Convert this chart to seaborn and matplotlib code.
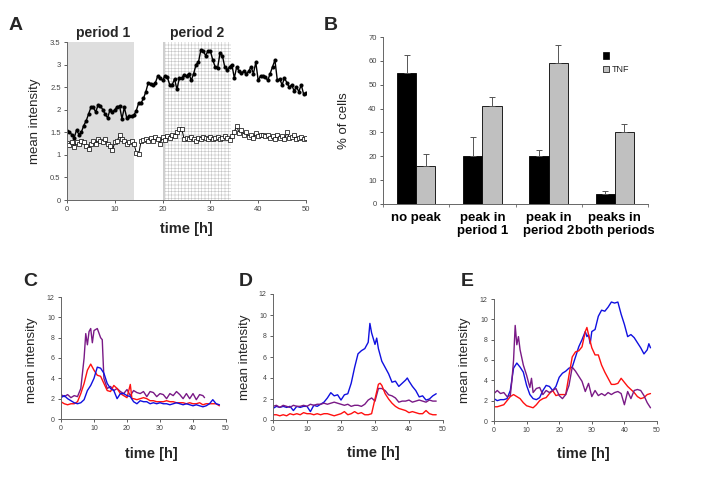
import numpy as np
import pandas as pd
import matplotlib
matplotlib.use("Agg")
import matplotlib.pyplot as plt
import seaborn as sns
from matplotlib.ticker import FuncFormatter
from matplotlib.patches import Patch

# ---- panel A: mean intensity of single cell, sampled every 0.5 h ----
a_time = np.arange(0, 50.5, 0.5)
a_tnf = [1.52, 1.50, 1.45, 1.38, 1.55, 1.45, 1.50, 1.65, 1.75, 1.90,
         2.05, 2.05, 1.95, 2.10, 2.08, 2.00, 1.90, 1.82, 2.00, 1.95,
         2.00, 2.07, 2.08, 1.80, 2.05, 1.82, 1.85, 1.85, 1.88, 1.98,
         2.15, 2.15, 2.25, 2.40, 2.60, 2.58, 2.55, 2.60, 2.75, 2.70,
         2.65, 2.75, 2.72, 2.55, 2.55, 2.68, 2.45, 2.70, 2.70, 2.78,
         2.75, 2.80, 2.65, 2.80, 3.00, 3.05, 3.32, 3.30, 3.20, 3.30,
         3.30, 3.10, 2.95, 2.92, 3.25, 3.20, 2.95, 2.88, 2.95, 3.00,
         2.70, 2.95, 2.85, 2.82, 2.85, 2.80, 2.85, 2.95, 2.80, 3.05,
         2.65, 2.75, 2.75, 2.72, 2.65, 2.80, 2.95, 3.10, 2.65, 2.68,
         2.55, 2.70, 2.60, 2.50, 2.55, 2.42, 2.50, 2.40, 2.55, 2.35, 2.37]
a_ctrl = [1.27, 1.22, 1.28, 1.18, 1.28, 1.25, 1.30, 1.28, 1.20, 1.12,
          1.25, 1.30, 1.25, 1.35, 1.30, 1.28, 1.35, 1.25, 1.20, 1.10,
          1.28, 1.30, 1.45, 1.35, 1.30, 1.25, 1.28, 1.30, 1.25, 1.05,
          1.02, 1.30, 1.32, 1.35, 1.30, 1.38, 1.30, 1.40, 1.35, 1.25,
          1.40, 1.32, 1.42, 1.38, 1.45, 1.42, 1.50, 1.58, 1.58, 1.35,
          1.38, 1.35, 1.40, 1.35, 1.30, 1.38, 1.35, 1.40, 1.38, 1.35,
          1.40, 1.35, 1.38, 1.40, 1.35, 1.38, 1.42, 1.38, 1.32, 1.42,
          1.50, 1.65, 1.48, 1.55, 1.45, 1.50, 1.40, 1.45, 1.38, 1.48,
          1.42, 1.45, 1.45, 1.42, 1.45, 1.38, 1.42, 1.35, 1.45, 1.38,
          1.42, 1.35, 1.50, 1.38, 1.40, 1.45, 1.35, 1.38, 1.40, 1.35, 1.38]
period1 = (0, 14)
period2 = (20, 34.3)

# ---- panel B: % of cells ----
b_categories = ["no peak", "peak in\nperiod 1", "peak in\nperiod 2", "peaks in\nboth periods"]
b_ctrl = [55, 20, 20, 4]
b_ctrl_err = [7.5, 8, 2.7, 1.3]
b_tnf = [16, 41, 59, 30]
b_tnf_err = [5, 4, 7.5, 3.5]

# ---- panels C, D, E: single cell traces (time h, intensity) ----
c_purple = [(0, 2.4), (1, 2.2), (2, 2.4), (3, 2.1), (4, 2.3), (5, 2.2), (6, 3.0), (7, 6.0),
            (7.5, 8.4), (8, 7.3), (8.5, 8.6), (9, 8.9), (9.5, 7.5), (10, 8.7), (11, 8.9),
            (12, 8.0), (12.5, 7.8), (13, 4.0), (14, 3.0), (15, 3.2), (16, 2.8), (17, 3.0),
            (18, 2.7), (19, 2.5), (20, 2.9), (21, 2.3), (22, 2.8), (23, 2.6), (24, 2.5),
            (25, 2.7), (26, 2.2), (27, 2.7), (28, 2.6), (29, 2.2), (30, 2.5), (31, 2.4),
            (32, 2.0), (33, 2.5), (34, 2.3), (35, 2.7), (36, 2.4), (37, 2.0), (38, 2.5),
            (39, 2.0), (40, 2.5), (41, 1.9), (42, 2.4), (43, 2.3), (43.5, 2.1)]
c_red = [(0, 1.7), (1, 1.5), (2, 1.4), (3, 1.5), (4, 1.5), (5, 1.7), (6, 2.5), (7, 3.5),
         (8, 4.8), (9, 5.4), (10, 4.8), (11, 4.3), (12, 4.2), (13, 3.5), (14, 2.8), (15, 2.7),
         (16, 3.3), (17, 3.0), (18, 2.5), (19, 2.3), (20, 2.1), (21, 3.4), (21.5, 2.0),
         (22, 2.0), (23, 1.9), (24, 2.0), (25, 2.1), (26, 2.0), (27, 1.8), (28, 1.8),
         (29, 1.7), (30, 1.7), (31, 1.7), (32, 1.8), (33, 1.7), (34, 1.7), (35, 1.6),
         (36, 1.6), (37, 1.6), (38, 1.5), (39, 1.6), (40, 1.5), (41, 1.5), (42, 1.6),
         (43, 1.4), (44, 1.5), (45, 1.5), (46, 1.5), (47, 1.5), (48, 1.3)]
c_blue = [(0, 2.1), (1, 2.3), (2, 2.0), (3, 1.8), (4, 1.6), (5, 1.5), (6, 1.6), (7, 1.9),
          (8, 2.8), (9, 3.3), (10, 4.0), (11, 5.1), (12, 5.0), (13, 4.5), (14, 3.5), (15, 3.0),
          (16, 2.8), (17, 2.0), (18, 2.5), (19, 2.5), (20, 2.3), (21, 2.2), (22, 1.7),
          (23, 1.5), (24, 1.8), (25, 1.7), (26, 1.7), (27, 1.5), (28, 1.6), (29, 1.5),
          (30, 1.6), (31, 1.5), (32, 1.5), (33, 1.4), (34, 1.5), (35, 1.6), (36, 1.5),
          (37, 1.4), (38, 1.5), (39, 1.4), (40, 1.3), (41, 1.4), (42, 1.3), (43, 1.2),
          (44, 1.3), (45, 1.5), (46, 1.9), (47, 1.5), (48, 1.4)]

d_blue = [(0, 1.1), (1, 1.3), (2, 1.2), (3, 1.3), (4, 1.2), (5, 1.3), (6, 0.9), (7, 1.3),
          (8, 1.2), (9, 1.3), (10, 1.3), (11, 0.8), (12, 1.4), (13, 1.3), (14, 1.5), (15, 1.7),
          (16, 2.1), (17, 2.6), (18, 2.3), (19, 2.4), (20, 1.9), (21, 2.4), (22, 2.5),
          (23, 3.5), (24, 5.0), (25, 6.3), (26, 6.6), (27, 6.8), (28, 7.4), (28.5, 9.2),
          (29, 8.3), (30, 7.2), (30.5, 7.8), (31, 6.8), (32, 5.6), (33, 5.0), (34, 4.4),
          (35, 3.6), (36, 3.7), (37, 3.2), (38, 3.5), (39, 3.8), (39.5, 4.0), (40, 3.7),
          (41, 3.2), (42, 2.8), (43, 2.2), (44, 2.3), (45, 1.9), (46, 2.0), (47, 2.3), (48, 2.5)]
d_purple = [(0, 1.3), (1, 1.4), (2, 1.2), (3, 1.4), (4, 1.3), (5, 1.2), (6, 1.4), (7, 1.3),
            (8, 1.3), (9, 1.4), (10, 1.3), (11, 1.5), (12, 1.4), (13, 1.5), (14, 1.5),
            (15, 1.6), (16, 1.5), (17, 1.6), (18, 1.7), (19, 1.6), (20, 1.5), (21, 1.4),
            (22, 1.5), (23, 1.3), (24, 1.4), (25, 1.4), (26, 1.3), (27, 1.5), (28, 1.9),
            (29, 2.1), (30, 1.8), (31, 3.0), (32, 3.0), (33, 2.8), (34, 2.4), (35, 2.3),
            (36, 2.1), (37, 1.7), (38, 1.8), (39, 1.8), (40, 1.9), (41, 1.7), (42, 1.8),
            (43, 1.9), (44, 1.8), (45, 1.7), (46, 1.9), (47, 1.8), (48, 1.8)]
d_red = [(0, 0.5), (1, 0.5), (2, 0.4), (3, 0.5), (4, 0.4), (5, 0.6), (6, 0.5), (7, 0.6),
         (8, 0.5), (9, 0.7), (10, 0.6), (11, 0.6), (12, 0.5), (13, 0.6), (14, 0.5), (15, 0.6),
         (16, 0.6), (17, 0.5), (18, 0.4), (19, 0.5), (20, 0.6), (21, 0.8), (22, 0.5),
         (23, 0.6), (24, 0.8), (25, 0.6), (26, 0.7), (27, 0.5), (28, 0.5), (29, 0.6),
         (30, 2.0), (31, 3.4), (31.5, 3.5), (32, 3.3), (33, 2.5), (34, 2.0), (35, 1.6),
         (36, 1.3), (37, 1.1), (38, 1.0), (39, 0.9), (40, 0.7), (41, 0.8), (42, 0.7),
         (43, 0.6), (44, 0.6), (45, 0.9), (46, 0.6), (47, 0.5), (48, 0.5)]

e_blue = [(0, 2.2), (1, 2.0), (2, 2.1), (3, 2.1), (4, 2.2), (5, 3.0), (6, 5.2), (7, 5.7),
          (8, 5.3), (9, 4.8), (10, 3.5), (11, 2.6), (12, 2.2), (13, 2.1), (14, 2.3), (15, 3.0),
          (16, 3.5), (17, 3.4), (18, 3.0), (19, 3.4), (20, 4.3), (21, 4.7), (22, 4.9),
          (23, 5.2), (24, 5.3), (25, 6.3), (26, 7.3), (27, 8.0), (28, 8.8), (28.5, 8.3),
          (29, 8.5), (29.5, 7.6), (30, 8.8), (31, 9.0), (32, 10.3), (33, 10.9), (34, 10.8),
          (35, 11.2), (36, 11.7), (37, 11.6), (38, 11.7), (39, 10.5), (40, 9.5), (41, 8.3),
          (42, 8.5), (43, 8.2), (44, 7.7), (45, 7.2), (46, 6.6), (47, 7.0), (47.5, 7.6), (48, 7.2)]
e_red = [(0, 1.4), (1, 1.4), (2, 1.5), (3, 1.6), (4, 2.0), (5, 2.4), (6, 2.6), (7, 2.4),
         (8, 2.2), (9, 1.8), (10, 1.5), (11, 1.4), (12, 1.3), (13, 1.6), (14, 2.0), (15, 2.2),
         (16, 2.3), (17, 2.7), (18, 3.0), (19, 2.5), (20, 2.6), (21, 2.6), (22, 2.6),
         (23, 4.5), (24, 6.3), (25, 6.8), (26, 6.9), (27, 7.3), (28, 8.8), (28.5, 9.2),
         (29, 8.5), (30, 7.2), (31, 6.5), (32, 6.5), (33, 5.5), (34, 4.8), (35, 4.2),
         (36, 3.6), (37, 3.6), (38, 3.7), (39, 4.2), (40, 3.8), (41, 3.4), (42, 3.1),
         (43, 2.8), (44, 2.4), (45, 2.2), (46, 2.3), (47, 2.6), (48, 2.7)]
e_purple = [(0, 2.7), (1, 3.0), (2, 2.7), (3, 2.8), (4, 2.4), (5, 2.5), (5.5, 4.0), (6, 6.0),
            (6.5, 9.4), (7, 7.5), (7.5, 8.3), (8, 7.0), (9, 5.5), (10, 4.5), (11, 3.3),
            (11.5, 4.2), (12, 2.8), (13, 3.2), (14, 3.3), (15, 2.6), (16, 3.0), (17, 2.8),
            (18, 3.0), (19, 3.2), (20, 2.5), (21, 2.2), (22, 2.6), (23, 3.5), (24, 5.3),
            (25, 4.9), (26, 4.4), (27, 3.9), (28, 2.9), (29, 3.7), (30, 2.4), (31, 3.0),
            (32, 2.5), (33, 2.7), (34, 2.5), (35, 2.8), (36, 2.6), (37, 2.8), (38, 2.9),
            (39, 2.7), (40, 1.6), (41, 2.9), (42, 2.2), (43, 3.0), (44, 3.1), (45, 3.0),
            (46, 2.5), (47, 1.8), (48, 1.3)]

BLUE = "#1010e0"
RED = "#ff1010"
PURPLE = "#7a1a86"

sns.set_style("ticks")
plt.rcParams["font.family"] = ["Liberation Sans", "DejaVu Sans"]
plt.rcParams["hatch.linewidth"] = 0.4
plt.rcParams["hatch.color"] = "#c4c4c4"

W, H = 720, 482
fig = plt.figure(figsize=(7.2, 4.82), dpi=100)


def box(l, r, t, b):
    return [l / W, 1 - b / H, (r - l) / W, (b - t) / H]


def style(ax, size=5.5):
    sns.despine(ax=ax)
    for s in ["left", "bottom"]:
        ax.spines[s].set_color("#666666")
        ax.spines[s].set_linewidth(0.7)
    ax.tick_params(labelsize=size, colors="#444444", length=2.5, width=0.6, pad=2)


gfmt = FuncFormatter(lambda v, p: f"{v:g}")

# ---------------- A ----------------
axA = fig.add_axes(box(67, 306, 42, 200))
axA.axvspan(*period1, color="#dedede", lw=0, zorder=0)
axA.axvspan(period2[0], period2[0] + 0.6, color="#cfcfcf", lw=0, zorder=0)
axA.axvspan(period2[0] + 0.6, period2[1], facecolor="white", edgecolor="#c4c4c4",
            hatch="+++++", lw=0, zorder=0)
sns.lineplot(x=a_time, y=a_tnf, ax=axA, color="black", lw=1.0, marker="o",
             markersize=2.2, markeredgecolor="black", estimator=None, sort=False)
sns.lineplot(x=a_time, y=a_ctrl, ax=axA, color="black", lw=0.7, marker="s",
             markersize=3.0, markerfacecolor="white", markeredgecolor="black",
             markeredgewidth=0.5, estimator=None, sort=False)
axA.set_xlim(0, 50)
axA.set_ylim(0, 3.5)
axA.set_xticks(range(0, 51, 10))
axA.set_yticks(np.arange(0, 3.51, 0.5))
axA.yaxis.set_major_formatter(gfmt)
style(axA)
axA.set_ylabel("mean intensity", fontsize=9.5)
axA.yaxis.set_label_coords(-0.11, 0.5)
axA.set_xlabel("time [h]", fontsize=10.5, fontweight="bold")
axA.xaxis.set_label_coords(0.5, -0.14)
axA.text(7.5, 1.06, "period 1", transform=axA.get_xaxis_transform(), ha="center",
         va="center", fontsize=10, fontweight="bold")
axA.text(27.2, 1.06, "period 2", transform=axA.get_xaxis_transform(), ha="center",
         va="center", fontsize=10, fontweight="bold")

# ---------------- B ----------------
axB = fig.add_axes(box(383, 648, 37, 204))
df = pd.DataFrame({
    "category": b_categories * 2,
    "group": ["ctrl"] * 4 + ["TNF"] * 4,
    "value": b_ctrl + b_tnf,
})
sns.barplot(data=df, x="category", y="value", hue="group", hue_order=["ctrl", "TNF"],
            palette={"ctrl": "black", "TNF": "#c0c0c0"}, width=0.58, ax=axB,
            edgecolor="black", linewidth=0.6, errorbar=None, legend=False)
for cont, err in zip(axB.containers, [b_ctrl_err, b_tnf_err]):
    for bar, e in zip(cont, err):
        x = bar.get_x() + bar.get_width() / 2
        h = bar.get_height()
        axB.errorbar(x, h, yerr=[[0], [e]], color="#555555", lw=0.7, capsize=2.5,
                     capthick=0.7)
axB.set_xlim(-0.5, 3.5)
axB.set_ylim(0, 70)
axB.set_yticks(range(0, 71, 10))
style(axB)
axB.tick_params(axis="x", length=0, labelsize=9.5, colors="black", pad=6)
for lab in axB.get_xticklabels():
    lab.set_fontweight("bold")
    lab.set_va("top")
    lab.set_linespacing(1.05)
axB.set_xticks(np.arange(-0.5, 3.6, 1), minor=True)
axB.tick_params(axis="x", which="minor", length=2.5, width=0.6, color="#666666")
axB.set_xlabel("")
axB.set_ylabel("% of cells", fontsize=9.5)
axB.yaxis.set_label_coords(-0.125, 0.5)
axB.legend(handles=[Patch(facecolor="black", edgecolor="black", lw=0.5),
                    Patch(facecolor="#c0c0c0", edgecolor="black", lw=0.5)],
           labels=["", "TNF"], loc="upper left", bbox_to_anchor=(0.8, 0.96),
           frameon=False, fontsize=6.5, handlelength=0.7, handleheight=0.7,
           handletextpad=0.3, labelspacing=0.5)

# ---------------- C, D, E ----------------
lower = [
    ("C", box(61, 226, 297, 419), [(c_purple, PURPLE), (c_red, RED), (c_blue, BLUE)],
     (30, 282), (-0.14, 0.48), (0.55, -0.23)),
    ("D", box(273, 443, 294, 420), [(d_blue, BLUE), (d_purple, PURPLE), (d_red, RED)],
     (246, 282), (-0.13, 0.5), (0.59, -0.21)),
    ("E", box(494, 657, 299, 421), [(e_blue, BLUE), (e_red, RED), (e_purple, PURPLE)],
     (467, 282), (-0.14, 0.5), (0.55, -0.21)),
]
for letter, pos, series, lpos, ylc, xlc in lower:
    ax = fig.add_axes(pos)
    for pts, col in series:
        t, v = zip(*pts)
        sns.lineplot(x=list(t), y=list(v), ax=ax, color=col, lw=1.0,
                     estimator=None, sort=False)
    ax.set_xlim(0, 50)
    ax.set_ylim(0, 12)
    ax.set_xticks(range(0, 51, 10))
    ax.set_yticks(range(0, 13, 2))
    style(ax, size=5)
    ax.set_ylabel("mean intensity", fontsize=9.5)
    ax.yaxis.set_label_coords(*ylc)
    ax.set_xlabel("time [h]", fontsize=10.5, fontweight="bold")
    ax.xaxis.set_label_coords(*xlc)
    fig.text(lpos[0] / W, 1 - lpos[1] / H, letter, fontsize=14, fontweight="bold",
             ha="center", va="center")

fig.text(16 / W, 1 - 26 / H, "A", fontsize=14, fontweight="bold", ha="center", va="center")
fig.text(331 / W, 1 - 26 / H, "B", fontsize=14, fontweight="bold", ha="center", va="center")

fig.savefig("out.png", dpi=100)
